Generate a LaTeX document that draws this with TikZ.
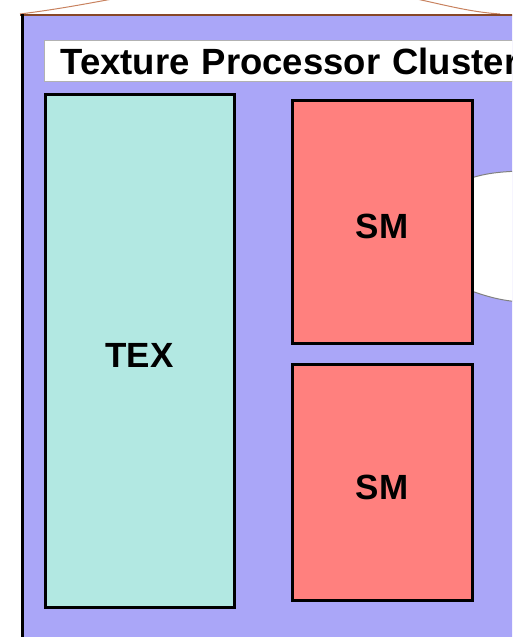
\documentclass[tikz,border=0pt]{standalone}
\usepackage{fontspec}
\setmainfont{Liberation Sans}

\definecolor{tpcblue}{RGB}{170,166,248}
\definecolor{texgreen}{RGB}{178,232,226}
\definecolor{smred}{RGB}{255,128,126}
\definecolor{edgebrown}{RGB}{135,72,40}
\definecolor{curvebrown}{RGB}{200,130,95}

\begin{document}
\begin{tikzpicture}[x=1pt, y=-1pt,
	unit/.style={draw=black, line width=3pt, inner sep=0pt, text height=34pt, text depth=0pt,
		font=\fontsize{35}{40}\selectfont\bfseries}]
	
	% visible part only
	\clip (0,0) rectangle (512,637);
	
	% outline of the enclosing block above
	\draw[curvebrown, line width=1pt] (20,14) .. controls (60,9) and (90,3) .. (118,-2);
	\draw[curvebrown, line width=1pt] (412,-2) .. controls (445,5) and (470,12) .. (500,14);
	
	% cluster background
	\fill[tpcblue] (22,15) rectangle (530,650);
	\draw[edgebrown, line width=2pt] (20,15) -- (530,15);
	\draw[black, line width=3pt] (22,14) -- (22,650);
	
	% notch on the right edge
	\fill[white] (460,182) .. controls (480,174) and (495,172) .. (520,171) -- (520,302)
		.. controls (495,300) and (480,294) .. (460,287) -- cycle;
	\draw[gray, line width=1pt] (460,182) .. controls (480,174) and (495,172) .. (520,171);
	\draw[gray, line width=1pt] (460,287) .. controls (480,294) and (495,300) .. (520,302);
	
	% title bar
	\node[draw=gray!60, fill=white, line width=1pt, anchor=north west,
		minimum height=41pt, inner ysep=0pt, inner xsep=16pt, text width=480pt, align=left,
		font=\fontsize{36.5}{40}\selectfont\bfseries] (title) at (44,40) {Texture Processor Cluster};
	
	% --- units ---
	\node[unit, fill=texgreen, minimum width=189pt, minimum height=513pt] (tex) at (139.5,350.5) {TEX};
	\node[unit, fill=smred, minimum width=180pt, minimum height=243pt] (sm1) at (382,221.5) {SM};
	\node[unit, fill=smred, minimum width=180pt, minimum height=236pt] (sm2) at (382,482) {SM};
	
\end{tikzpicture}
\end{document}
